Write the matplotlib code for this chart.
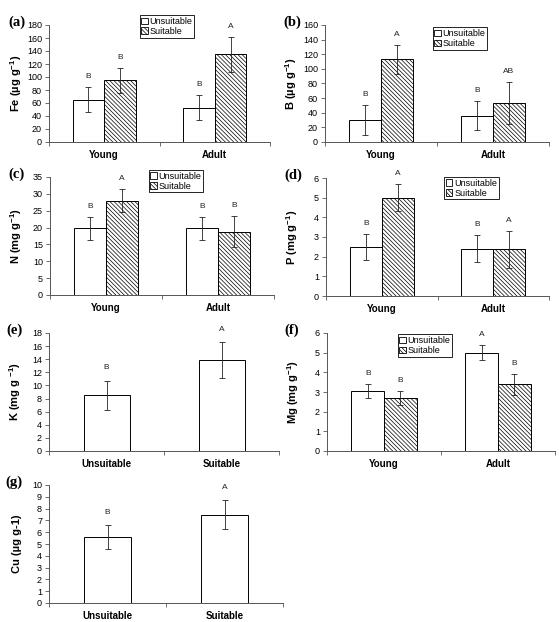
import matplotlib
matplotlib.use('Agg')
import matplotlib.pyplot as plt
from matplotlib.patches import Patch

plt.rcParams['font.family'] = ['Liberation Sans', 'DejaVu Sans']
plt.rcParams['mathtext.fontset'] = 'custom'
plt.rcParams['mathtext.rm'] = 'Liberation Sans:bold'
plt.rcParams['mathtext.default'] = 'rm'
plt.rcParams['hatch.linewidth'] = 0.5
plt.rcParams['hatch.color'] = '#444444'

# ---- data ----
groups = ['Young', 'Adult']
treatments = ['Unsuitable', 'Suitable']

fe_unsuit, fe_unsuit_err = [65, 53], [19, 19]
fe_suit, fe_suit_err = [95, 135], [19, 27]
fe_let_unsuit, fe_let_suit = ['B', 'B'], ['B', 'A']

b_unsuit, b_unsuit_err = [30, 36], [20, 20]
b_suit, b_suit_err = [113, 53], [20, 29]
b_let_unsuit, b_let_suit = ['B', 'B'], ['A', 'AB']

n_unsuit, n_unsuit_err = [19.8, 19.8], [3.4, 3.4]
n_suit, n_suit_err = [28.0, 18.8], [3.4, 4.7]
n_let_unsuit, n_let_suit = ['B', 'B'], ['A', 'B']

p_unsuit, p_unsuit_err = [2.5, 2.4], [0.65, 0.68]
p_suit, p_suit_err = [5.0, 2.37], [0.68, 0.95]
p_let_unsuit, p_let_suit = ['B', 'B'], ['A', 'A']

mg_unsuit, mg_unsuit_err = [3.05, 5.0], [0.37, 0.38]
mg_suit, mg_suit_err = [2.7, 3.4], [0.37, 0.53]
mg_let_unsuit, mg_let_suit = ['B', 'A'], ['B', 'B']

k_vals, k_err, k_let = [8.5, 13.9], [2.2, 2.7], ['B', 'A']
cu_vals, cu_err, cu_let = [5.6, 7.5], [1.0, 1.2], ['B', 'A']

W, H = 559, 622
fig = plt.figure(figsize=(W / 100, H / 100), dpi=100)

HATCH = '\\' * 8


def make_ax(x0, x1, ytop, y0):
    return fig.add_axes([x0 / W, 1 - y0 / H, (x1 - x0) / W, (y0 - ytop) / H])


def style_ax(ax, ymax, ystep, ylabel, tag, xlabels):
    ax.set_xlim(0, 2)
    ax.set_ylim(0, ymax)
    n = int(round(ymax / ystep))
    ticks = [ystep * i for i in range(n + 1)]
    ax.set_yticks(ticks)
    ax.set_yticklabels([('%g' % t) for t in ticks], fontsize=6.5)
    ax.set_xticks([0.5, 1.5])
    ax.set_xticklabels(xlabels, fontsize=7, fontweight='bold')
    ax.set_xticks([0, 1, 2], minor=True)
    ax.tick_params(axis='x', which='major', length=0, pad=6)
    ax.tick_params(axis='x', which='minor', length=3, width=0.6, color='#555555')
    ax.tick_params(axis='y', length=3, width=0.6, color='#555555', pad=2)
    for s in ['top', 'right']:
        ax.spines[s].set_visible(False)
    for s in ['left', 'bottom']:
        ax.spines[s].set_linewidth(0.7)
        ax.spines[s].set_color('#555555')
    ax.set_ylabel(ylabel, fontsize=8, fontweight='bold')
    ax.yaxis.set_label_coords(-0.115, 0.5)
    ax.text(-0.185, 1.02, tag, transform=ax.transAxes, fontsize=10.5,
            fontweight='bold', family='Liberation Serif', ha='left', va='center')


def letters(ax, xs, vals, errs, labs, off):
    for x, v, e, l in zip(xs, vals, errs, labs):
        ax.text(x, v + e + off, l, ha='center', va='center', fontsize=6,
                color='#222222')


def paired(ax, u, ue, s, se, lu, ls, ymax, legend_xy):
    w = 1 / 3.5
    xu = [0.5 - w / 2, 1.5 - w / 2]
    xs = [0.5 + w / 2, 1.5 + w / 2]
    ekw = dict(ecolor='#222222', elinewidth=0.6, capsize=2, capthick=0.6)
    ax.bar(xu, u, w, yerr=ue, color='white', edgecolor='black', linewidth=0.7,
           error_kw=ekw, label=treatments[0], zorder=2)
    ax.bar(xs, s, w, yerr=se, color='white', edgecolor='black', linewidth=0.7,
           hatch=HATCH, error_kw=ekw, label=treatments[1], zorder=2)
    off = 0.09 * ymax
    letters(ax, xu, u, ue, lu, off)
    letters(ax, xs, s, se, ls, off)
    handles = [Patch(facecolor='white', edgecolor='black', linewidth=0.6),
               Patch(facecolor='white', edgecolor='black', linewidth=0.6,
                     hatch=HATCH)]
    leg = ax.legend(handles, treatments, loc='upper left', bbox_to_anchor=legend_xy,
                    fontsize=6.5, frameon=True, fancybox=False, framealpha=1,
                    edgecolor='black', handlelength=0.7, handleheight=0.7,
                    handletextpad=0.2, borderpad=0.2, labelspacing=0.1,
                    borderaxespad=0)
    leg.get_frame().set_linewidth(0.6)


def single(ax, vals, errs, labs, ymax):
    w = 0.4
    xs = [0.5, 1.5]
    ekw = dict(ecolor='#222222', elinewidth=0.6, capsize=2, capthick=0.6)
    ax.bar(xs, vals, w, yerr=errs, color='white', edgecolor='black',
           linewidth=0.7, error_kw=ekw, zorder=2)
    letters(ax, xs, vals, errs, labs, 0.11 * ymax)


# (a) Fe
ax = make_ax(49, 270, 25, 142)
paired(ax, fe_unsuit, fe_unsuit_err, fe_suit, fe_suit_err,
       fe_let_unsuit, fe_let_suit, 180, (0.41, 1.085))
style_ax(ax, 180, 20, r'Fe (µg g$^{-1}$)', '(a)', groups)

# (b) B
ax = make_ax(325, 549, 25, 142)
paired(ax, b_unsuit, b_unsuit_err, b_suit, b_suit_err,
       b_let_unsuit, b_let_suit, 160, (0.48, 0.98))
style_ax(ax, 160, 20, r'B (µg g$^{-1}$)', '(b)', groups)

# (c) N
ax = make_ax(50, 274, 177, 295)
paired(ax, n_unsuit, n_unsuit_err, n_suit, n_suit_err,
       n_let_unsuit, n_let_suit, 35, (0.44, 1.06))
style_ax(ax, 35, 5, r'N (mg g$^{-1}$)', '(c)', groups)

# (d) P
ax = make_ax(326, 549, 178, 296)
paired(ax, p_unsuit, p_unsuit_err, p_suit, p_suit_err,
       p_let_unsuit, p_let_suit, 6, (0.53, 1.01))
style_ax(ax, 6, 1, r'P (mg g$^{-1}$)', '(d)', groups)

# (e) K
ax = make_ax(49, 279, 333, 451)
single(ax, k_vals, k_err, k_let, 18)
style_ax(ax, 18, 2, r'K (mg g $^{-1}$)', '(e)', treatments)

# (f) Mg
ax = make_ax(327, 555, 333, 451)
paired(ax, mg_unsuit, mg_unsuit_err, mg_suit, mg_suit_err,
       mg_let_unsuit, mg_let_suit, 6, (0.31, 0.99))
style_ax(ax, 6, 1, r'Mg (mg g$^{-1}$)', '(f)', groups)

# (g) Cu
ax = make_ax(49, 283, 485, 603)
single(ax, cu_vals, cu_err, cu_let, 10)
style_ax(ax, 10, 1, 'Cu (µg g-1)', '(g)', treatments)

fig.savefig('out.png', dpi=100)
